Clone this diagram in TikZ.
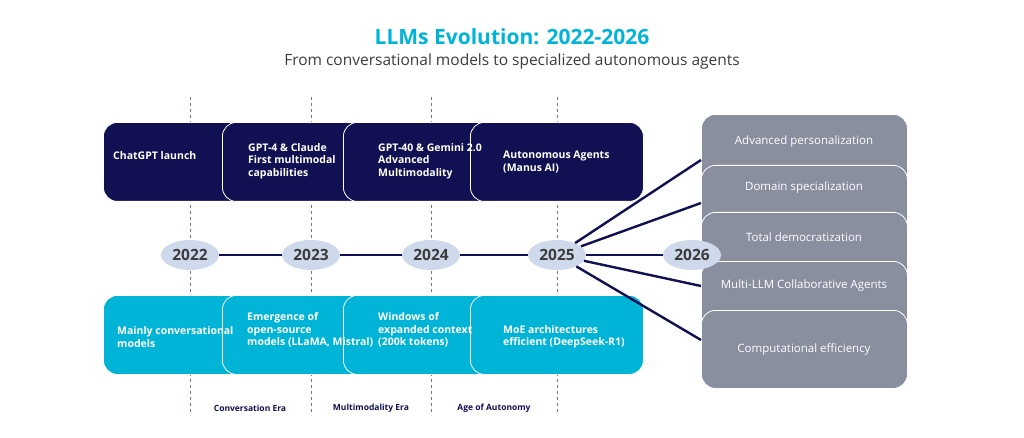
\documentclass[tikz,border=0pt]{standalone}
\usepackage{fontspec}
\setmainfont{Open Sans}
\usetikzlibrary{positioning,shapes.geometric}
\definecolor{navy}{RGB}{17,16,82}
\definecolor{cyanbox}{RGB}{0,180,216}
\definecolor{greybox}{RGB}{138,143,160}
\definecolor{yearfill}{RGB}{206,218,236}
\definecolor{dashcol}{RGB}{120,110,170}
\definecolor{subgrey}{RGB}{60,60,60}
\tikzset{
    evbox/.style={rectangle, rounded corners=14pt, draw=white, line width=0.8pt, minimum width=173pt, minimum height=79pt, anchor=north west, inner sep=0pt},
    evtext/.style={anchor=west, align=left, text=white, font=\fontsize{10.5}{12.5}\selectfont\bfseries, inner sep=0pt},
    futbox/.style={rectangle, rounded corners=14pt, draw=white, line width=0.8pt, fill=greybox, minimum width=206pt, minimum height=78pt, anchor=north west, inner sep=0pt},
    futtext/.style={text=white, font=\fontsize{11.5}{13}\selectfont, inner sep=0pt},
    year/.style={ellipse, fill=yearfill, minimum width=58pt, minimum height=30pt, inner sep=0pt, text=subgrey, font=\fontsize{15.5}{17}\selectfont\bfseries},
    era/.style={text=navy, font=\fontsize{8.5}{10}\selectfont\bfseries, inner sep=0pt},
    tline/.style={navy, line width=2.4pt}
}
\begin{document}
\begin{tikzpicture}[x=1pt, y=-1pt]
    \useasboundingbox (0,0) rectangle (1024,438);
    % title
    \node[text=cyanbox, font=\fontsize{21}{24}\selectfont\bfseries] (title) at (512,37) {LLMs Evolution: 2022-2026};
    \node[text=subgrey, font=\fontsize{15.5}{18}\selectfont] (subtitle) at (512,61) {From conversational models to specialized autonomous agents};

    % era separators
    \foreach \x in {190,311,431,557}{
        \draw[dashcol, dashed, line width=0.8pt] (\x,97) -- (\x,415);
    }

    % top and bottom boxes
    \foreach \i/\x in {1/103,2/222,3/343,4/470}{
        \node[evbox, fill=navy] (t\i) at (\x,122) {};
        \node[evbox, fill=cyanbox] (b\i) at (\x,295) {};
    }
    \node[evtext] (t1txt) at (113,156) {ChatGPT launch};
    \node[evtext] (t2txt) at (248,161) {GPT-4 \& Claude\\First multimodal\\capabilities};
    \node[evtext] (t3txt) at (378,161) {GPT-40 \& Gemini 2.0\\Advanced\\Multimodality};
    \node[evtext] (t4txt) at (503,162) {Autonomous Agents\\(Manus AI)};
    \node[evtext] (b1txt) at (117,337) {Mainly conversational\\models};
    \node[evtext] (b2txt) at (247,330) {Emergence of\\open-source\\models (LLaMA, Mistral)};
    \node[evtext] (b3txt) at (378,330) {Windows of\\expanded context\\(200k tokens)};
    \node[evtext] (b4txt) at (503,337) {MoE architectures\\efficient (DeepSeek-R1)};

    % future boxes
    \foreach \i/\y in {1/114,2/165,3/212,4/261,5/310}{
        \node[futbox] (f\i) at (701,\y) {};
    }
    \node[futtext] (f1txt) at (804,142) {Advanced personalization};
    \node[futtext] (f2txt) at (804,188) {Domain specialization};
    \node[futtext] (f3txt) at (804,237) {Total democratization};
    \node[futtext] (f4txt) at (804,286) {Multi-LLM Collaborative Agents};
    \node[futtext] (f5txt) at (804,349) {Computational efficiency};

    % timeline
    \coordinate (e1) at (701,160);
    \coordinate (e2) at (701,203);
    \coordinate (e4) at (701,286);
    \coordinate (e5) at (701,340);
    \node[year] (y2022) at (190,255) {2022};
    \node[year] (y2023) at (311,255) {2023};
    \node[year] (y2024) at (431,255) {2024};
    \node[year] (y2025) at (557,255) {2025};
    \node[year] (y2026) at (692,255) {2026};
    \draw[tline] (y2022) -- (y2023);
    \draw[tline] (y2023) -- (y2024);
    \draw[tline] (y2024) -- (y2025);
    \draw[tline] (y2025) -- (y2026);
    \foreach \e in {e1,e2,e4,e5}{
        \draw[tline] (y2025) -- (\e);
    }

    % eras
    \node[era] (era1) at (250,408) {Conversation Era};
    \node[era] (era2) at (371,408) {Multimodality Era};
    \node[era] (era3) at (494,408) {Age of Autonomy};
\end{tikzpicture}
\end{document}
